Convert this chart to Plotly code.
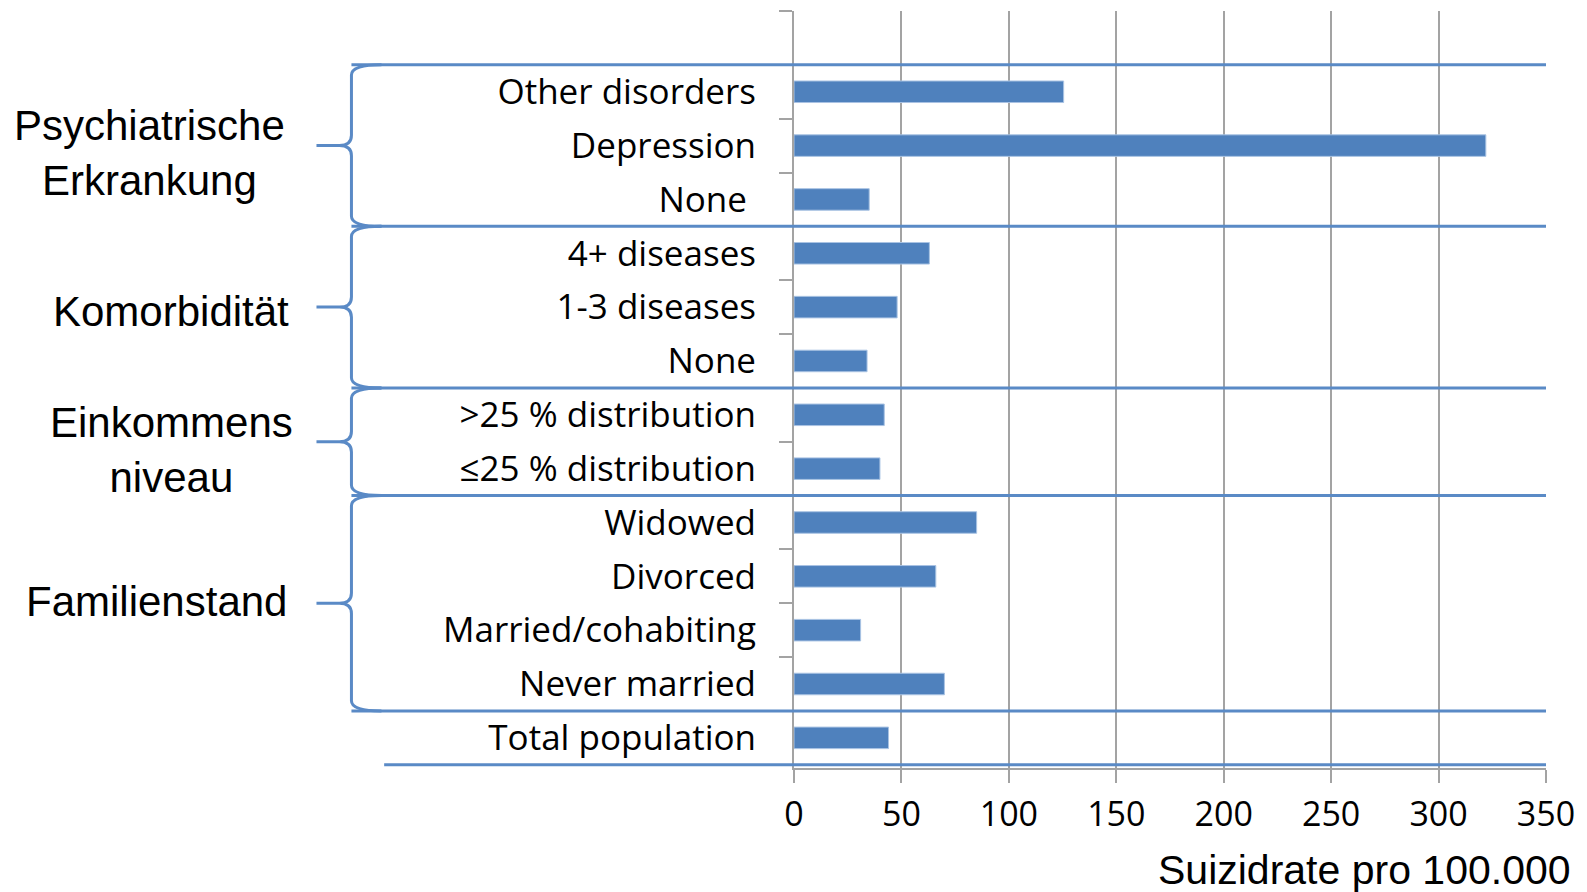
import plotly.graph_objects as go

# Rows from bottom to top; the top row is left empty as headroom
labels = [
    "Total population",
    "Never married",
    "Married/cohabiting",
    "Divorced",
    "Widowed",
    "≤25 % distribution",
    ">25 % distribution",
    "None",
    "1-3 diseases",
    "4+ diseases",
    "None\u00a0",
    "Depression",
    "Other disorders",
]
rates = [44, 70, 31, 66, 85, 40, 42, 34, 48, 63, 35, 322, 125.5]
positions = list(range(len(labels)))

# Groups: (label, first row, last row)
groups = [
    ("Psychiatrische<br>Erkrankung", 10, 12),
    ("Komorbidität", 7, 9),
    ("Einkommens<br>niveau", 5, 6),
    ("Familienstand", 1, 4),
]
group_label_x = [-0.857, -0.828, -0.828, -0.848]
group_label_shift = [-7, -4, -8, 2]

x_ticks = [0, 50, 100, 150, 200, 250, 300, 350]
x_title = "Suizidrate pro 100.000"

BAR = "#4F81BD"
BRACE = "#5A8AC6"
GRID = "#A3A3A3"
LABEL_FONT = "Open Sans"
GROUP_FONT = "Liberation Sans"

fig = go.Figure()
fig.add_trace(go.Bar(
    x=rates, y=positions, orientation="h",
    marker=dict(color=BAR, line=dict(color="#A9C3E3", width=1)),
    width=0.4, showlegend=False, hoverinfo="x+y",
))

# brace geometry (x in paper fractions of the plot width)
xv, xt, xc, xd = -0.5885, -0.635, -0.5486, -0.6045
r = 0.19

def brace_path(lo, hi):
    m = (lo + hi) / 2
    return (f"M {xc},{hi} Q {xv},{hi} {xv},{hi - r} L {xv},{m + r} "
            f"Q {xv},{m} {xd},{m} L {xt},{m} M {xd},{m} "
            f"Q {xv},{m} {xv},{m - r} L {xv},{lo + r} Q {xv},{lo} {xc},{lo}")

shapes = []
boundaries = sorted({g[1] - 0.5 for g in groups} | {g[2] + 0.5 for g in groups})
for b in boundaries:
    shapes.append(dict(type="line", xref="paper", yref="y", x0=xv, x1=1.0,
                       y0=b, y1=b, line=dict(color=BRACE, width=3), layer="above"))
shapes.append(dict(type="line", xref="paper", yref="y", x0=-0.545, x1=1.0,
                   y0=-0.5, y1=-0.5, line=dict(color=BRACE, width=3), layer="above"))
for _, lo, hi in groups:
    shapes.append(dict(type="path", xref="paper", yref="y",
                       path=brace_path(lo - 0.5, hi + 0.5),
                       line=dict(color=BRACE, width=3), layer="above"))

annotations = []
for (name, lo, hi), gx, ys in zip(groups, group_label_x, group_label_shift):
    annotations.append(dict(
        text=name, xref="paper", yref="y", x=gx, y=(lo + hi) / 2,
        xanchor="center", yanchor="middle", align="center", showarrow=False,
        yshift=ys, font=dict(family=GROUP_FONT, size=42, color="black"),
    ))
annotations.append(dict(
    text=x_title, xref="paper", yref="paper", x=1.036, y=-0.135,
    xanchor="right", yanchor="middle", showarrow=False,
    font=dict(family=GROUP_FONT, size=41, color="black"),
))

fig.update_layout(
    width=1587, height=892,
    margin=dict(l=794, r=41, t=11, b=124),
    paper_bgcolor="white", plot_bgcolor="white",
    shapes=shapes, annotations=annotations,
    xaxis=dict(
        range=[0, 350], tickvals=x_ticks, ticktext=[str(v) for v in x_ticks],
        showgrid=True, gridcolor=GRID, gridwidth=2,
        zeroline=False, showline=True, linecolor=GRID, linewidth=2,
        ticks="outside", ticklen=13, tickcolor=GRID, tickwidth=2,
        tickfont=dict(family=LABEL_FONT, size=34, color="black"),
        ticklabelstandoff=2,
    ),
    yaxis=dict(
        range=[-0.56, 13.5], tickvals=positions, ticktext=labels,
        showgrid=False, zeroline=False,
        showline=True, linecolor=GRID, linewidth=2,
        ticks="", ticklen=0,
        minor=dict(tickvals=[p - 0.5 for p in range(len(labels) + 2)],
                   ticks="outside", ticklen=13, tickcolor=GRID, tickwidth=2,
                   showgrid=False),
        tickfont=dict(family=LABEL_FONT, size=35, color="black"),
        ticklabelstandoff=29,
    ),
)

fig.write_html("out.html")
